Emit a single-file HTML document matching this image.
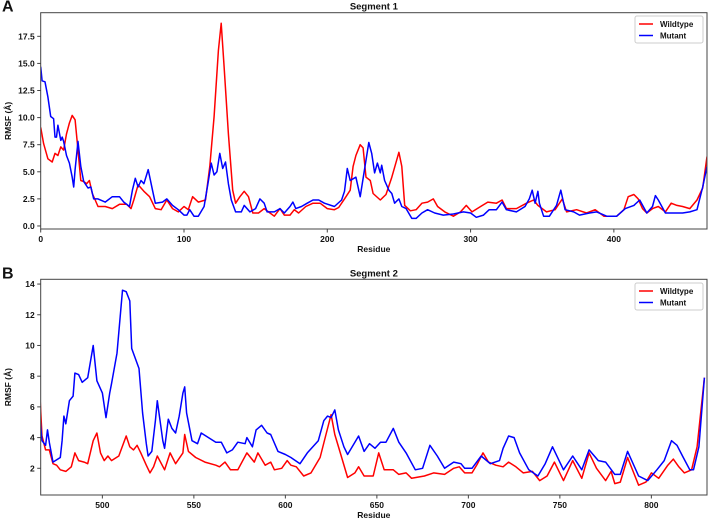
<!DOCTYPE html>
<html><head><meta charset="utf-8"><style>
body{margin:0;background:#fff;}
svg text{font-family:"Liberation Sans",sans-serif;font-weight:bold;fill:#111;}
</style></head><body>
<svg id="c" width="708" height="519"></svg>
<script>
const resW1=[0,2,5,8,10,12,14,16,18,20,22,24,26,28,30,32,34,36,38,40,45,50,55,60,63,65,68,72,76,80,84,88,92,96,100,103,106,110,115,118,121,124,126,128,131,134,136,139,142,145,148,152,156,160,163,167,170,174,177,180,185,190,195,200,205,208,212,216,218,220,223,225,227,230,232,237,241,245,250,252,254,258,262,266,270,274,277,282,288,293,297,301,307,312,318,322,325,332,339,344,347,353,359,364,367,374,381,387,393,402,407,410,414,417,420,423,427,431,436,440,444,448,453,458,462,465];
const wild1=[9.1,7.6,6.2,5.9,6.7,6.5,7.3,7.0,8.5,9.5,10.2,9.8,7.0,4.2,4.1,3.9,4.2,3.0,2.4,1.8,1.8,1.6,2.0,2.0,1.6,2.4,3.8,3.2,2.7,1.6,1.5,2.4,1.6,1.3,1.8,1.5,2.7,2.2,2.4,5.5,10.1,16.2,18.7,14.7,8.5,3.3,2.1,2.7,3.2,2.7,1.2,1.2,1.6,1.2,0.9,1.6,1.0,1.0,1.5,1.2,1.8,2.1,2.1,1.6,1.5,1.7,2.5,3.3,5.5,6.5,7.5,7.2,4.5,4.2,3.0,2.4,2.9,4.5,6.8,5.5,1.9,1.4,1.5,2.1,2.2,2.5,1.8,1.3,0.9,1.3,1.9,1.3,1.8,2.2,2.1,2.4,1.6,1.6,2.1,2.4,1.9,1.3,1.5,2.5,1.3,1.5,1.2,1.5,0.9,0.9,1.5,2.7,2.9,2.5,1.6,1.2,1.6,1.8,1.3,2.1,1.9,1.8,1.6,2.4,3.5,6.4];
const resM1=[0,1,3,5,7,9,10,11,12,14,15,16,18,20,22,23,24,26,28,30,33,35,37,40,45,50,55,58,62,64,66,68,70,72,75,78,80,85,88,92,96,100,102,104,107,110,114,117,119,121,123,125,127,129,131,133,136,140,142,146,150,153,156,158,163,167,170,174,176,178,182,186,190,194,198,205,210,212,214,216,220,223,226,229,231,233,235,237,238,240,243,245,247,250,252,255,259,262,266,270,275,281,288,295,300,304,309,313,318,322,325,332,338,341,343,345,347,348,351,355,360,363,366,372,376,383,388,395,402,408,414,418,423,427,429,431,436,441,448,453,458,462,465];
const mut1=[14.7,13.4,13.3,11.9,10.1,9.9,8.2,8.2,9.3,7.9,8.2,7.8,6.5,5.8,4.5,3.6,5.2,7.8,5.5,4.1,3.5,3.6,2.5,2.5,2.2,2.7,2.7,2.2,1.8,3.3,4.4,3.6,4.2,3.9,5.2,3.3,2.1,2.2,2.5,1.9,1.5,1.0,1.0,1.5,0.9,0.9,1.8,4.1,5.8,4.7,5.0,6.7,5.3,5.9,3.9,2.4,1.3,1.3,1.9,1.3,1.6,2.5,2.1,1.3,1.3,1.6,1.2,1.8,2.2,1.6,1.8,2.1,2.4,2.4,2.1,1.8,2.4,3.2,5.3,4.2,4.5,2.7,5.2,7.7,6.7,4.9,5.8,4.9,5.6,4.2,3.3,3.0,2.1,2.5,1.8,1.6,0.7,0.7,1.2,1.5,1.2,1.0,1.1,1.3,1.2,0.8,1.0,1.5,1.5,2.2,1.5,1.3,1.8,2.5,3.3,2.1,3.2,2.1,0.9,0.9,1.9,3.3,1.5,1.3,1.0,1.2,1.3,0.9,0.9,1.6,1.9,2.4,1.2,1.8,2.8,2.4,1.2,1.2,1.2,1.3,1.5,3.6,5.5];
const resW2=[466,467,469,471,473,475,477,480,483,485,487,490,492,495,497,499,501,503,505,509,513,515,517,519,521,524,526,528,530,534,537,540,544,545,547,551,556,562,564,567,570,574,579,583,585,589,592,594,598,601,603,606,610,614,619,622,625,627,630,634,638,640,643,648,651,654,659,662,666,669,676,681,687,692,695,698,702,705,708,711,715,719,722,726,730,735,739,743,747,752,757,762,766,770,775,778,780,783,787,793,797,800,804,809,812,815,818,822,825,829];
const wild2=[6.4,4.1,3.2,3.2,2.3,2.2,1.9,1.8,2.1,3.0,2.5,2.4,2.3,3.8,4.3,3.0,2.5,2.8,2.5,2.8,4.1,3.4,3.2,3.5,3.0,2.2,1.7,2.1,2.8,1.9,3.0,2.3,3.0,4.2,3.1,2.7,2.4,2.2,2.1,2.4,1.9,1.9,3.0,2.4,3.0,2.2,2.4,1.9,2.0,2.5,2.2,2.1,1.5,1.7,2.7,4.1,5.5,4.2,3.0,1.4,1.7,2.1,1.5,1.5,3.0,1.9,1.9,1.6,1.7,1.35,1.5,1.7,1.6,2.0,2.1,1.7,1.7,2.3,3.0,2.4,2.2,2.1,2.4,2.1,1.7,1.8,1.2,1.5,2.4,1.2,2.5,1.35,3.0,2.0,1.2,1.8,1.0,1.1,2.7,0.9,1.1,1.7,1.35,2.2,2.6,2.1,1.7,1.9,3.4,7.9];
const resM2=[466,467,469,470,471,473,477,478,479,480,482,484,485,487,489,492,495,497,500,502,504,505,508,511,513,515,516,520,522,524,525,527,529,530,533,534,536,538,540,542,544,545,546,549,552,554,558,562,565,568,571,574,578,579,582,584,587,590,592,596,600,603,608,612,618,621,623,625,627,629,632,634,638,640,643,646,649,652,655,659,662,666,671,675,679,683,687,692,696,698,702,707,712,717,719,722,725,728,733,738,742,746,752,757,762,766,771,775,780,783,787,793,798,803,807,811,814,817,821,823,826,829];
const mut2=[5.1,3.8,3.5,4.5,3.7,2.4,2.7,3.8,5.4,4.9,6.4,6.7,8.2,8.1,7.6,7.9,10.0,7.7,6.9,5.3,6.9,7.5,9.5,13.6,13.5,12.9,9.8,8.5,5.6,3.6,2.8,3.1,5.1,6.4,3.8,3.3,5.2,4.6,4.3,5.4,6.9,7.3,5.6,3.8,3.6,4.3,4.0,3.7,3.7,3.0,3.2,3.7,3.6,4.0,3.4,4.5,4.8,4.3,4.2,3.1,2.9,2.7,2.3,3.0,3.8,5.1,5.4,5.3,5.8,4.5,3.4,2.9,3.7,4.1,3.1,3.6,3.3,3.7,3.7,4.6,3.7,3.0,1.9,2.0,3.5,2.8,2.0,2.4,2.3,2.0,2.0,2.8,2.3,2.5,3.3,4.1,4.0,3.0,1.9,1.5,2.3,3.4,1.9,2.8,1.9,3.2,2.5,2.4,1.6,1.6,3.1,1.5,1.2,1.9,2.5,3.8,3.5,2.8,1.9,1.9,3.4,7.9];
const xTicks1=[0,100,200,300,400];
const yTicks1=[0.0,2.5,5.0,7.5,10.0,12.5,15.0,17.5];
const xTicks2=[500,550,600,650,700,750,800];
const yTicks2=[2,4,6,8,10,12,14];

const NS="http://www.w3.org/2000/svg";
const svg=document.getElementById('c');
function mk(tag,attrs,parent,text){const e=document.createElementNS(NS,tag);for(const k in attrs)e.setAttribute(k,attrs[k]);if(text!==undefined)e.textContent=text;(parent||svg).appendChild(e);return e;}

function panel(p){
  const g=mk('g',{});
  
  
  const X=v=>p.L+(v-p.x0)/(p.x1-p.x0)*(p.R-p.L);
  const Y=v=>p.B-(v-p.y0)/(p.y1-p.y0)*(p.B-p.T);
  const cp=mk('clipPath',{id:'cp'+p.id},g);mk('rect',{x:p.L,y:p.T,width:p.R-p.L,height:p.B-p.T},cp);
  const series=[[p.rw,p.w,'#f00','wildtype-line'],[p.rm,p.m,'#00f','mutant-line']];
  series.forEach(s=>{
    const d=s[0].map((r,i)=>(i?'L':'M')+X(r).toFixed(1)+','+Y(s[1][i]).toFixed(1)).join('');
    const path=mk('path',{d:d,fill:'none',stroke:s[2],'stroke-width':1.5,'stroke-linejoin':'round','clip-path':'url(#cp'+p.id+')'},g);
    
    
  });
  const fr=mk('rect',{x:p.L,y:p.T,width:p.R-p.L,height:p.B-p.T,fill:'none',stroke:'#444','stroke-width':1},g);
  
  
  p.xt.forEach(t=>{const x=X(t);mk('line',{x1:x,x2:x,y1:p.B,y2:p.B+3.5,stroke:'#444'},g);
    const tx=mk('text',{x:x,y:p.B+13,'font-size':8.5,'text-anchor':'middle'},g,String(t));
    
    });
  p.yt.forEach(t=>{const y=Y(t);mk('line',{x1:p.L-3.5,x2:p.L,y1:y,y2:y,stroke:'#444'},g);
    const tx=mk('text',{x:p.L-6,y:y+3,'font-size':8.5,'text-anchor':'end'},g,p.fmt(t));
    
    });
  const ti=mk('text',{x:(p.L+p.R)/2,y:p.T-3,'font-size':9.5,'text-anchor':'middle'},g,p.title);
  
  
  const xl=mk('text',{x:(p.L+p.R)/2,y:p.B+23,'font-size':8.5,'text-anchor':'middle'},g,'Residue');
  
  
  const yc=(p.T+p.B)/2;
  const yl=mk('text',{x:11,y:yc,'font-size':8.5,'text-anchor':'middle',transform:'rotate(-90 11 '+yc+')'},g,'RMSF (Å)');
  
  
  const lt=mk('text',{x:2,y:p.T-1,'font-size':16},g,p.letter);
  
  
  const lg=mk('g',{},g);
  
  
  mk('rect',{x:635,y:p.LT,width:68,height:27,rx:2,fill:'#fff',stroke:'#ccc'},lg);
  [['Wildtype','#f00'],['Mutant','#00f']].forEach((e,i)=>{
    const y=p.LT+8+i*11.5;
    const le=mk('g',{},lg);
    
    
    mk('line',{x1:639,x2:653,y1:y,y2:y,stroke:e[1],'stroke-width':1.5},le);
    mk('text',{x:660,y:y+3,'font-size':8},le,e[0]);
  });
}
panel({id:1,name:'segment-1-chart',L:40.7,R:707,T:12.7,B:229,x0:0,x1:465,y0:-0.28,y1:19.68,rw:resW1,w:wild1,rm:resM1,m:mut1,xt:xTicks1,yt:yTicks1,fmt:t=>t.toFixed(1),title:'Segment 1',letter:'A',LT:16});
panel({id:2,name:'segment-2-chart',L:40.7,R:707,T:279.3,B:495,x0:466.3,x1:830.4,y0:0.26,y1:14.31,rw:resW2,w:wild2,rm:resM2,m:mut2,xt:xTicks2,yt:yTicks2,fmt:t=>String(t),title:'Segment 2',letter:'B',LT:283});
</script>
</body></html>
